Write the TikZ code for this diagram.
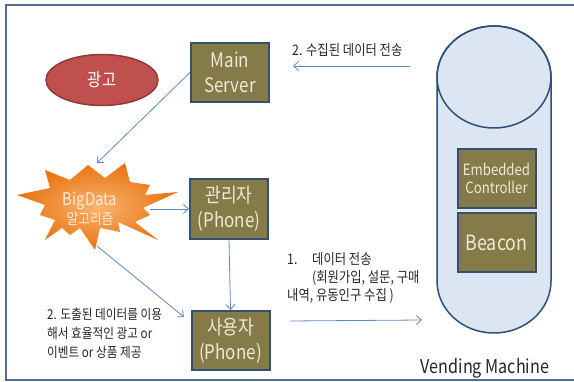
\documentclass[tikz,border=0pt]{standalone}
\usepackage{fontspec}
\setmainfont{Noto Sans CJK KR}[FakeStretch=0.85]
\usetikzlibrary{arrows.meta,shapes.geometric}
\definecolor{boxfill}{HTML}{857B48}
\definecolor{boxline}{HTML}{34506F}
\definecolor{boxtext}{HTML}{EEEAD6}
\definecolor{arr}{HTML}{5E88C0}
\definecolor{framec}{HTML}{4F6F95}
\definecolor{cylfill}{HTML}{DCE6F2}
\definecolor{cylline}{HTML}{2F4F7A}
\definecolor{adfill}{HTML}{C0504D}
\definecolor{adline}{HTML}{8E3B39}
\definecolor{burstin}{HTML}{FAB370}
\definecolor{burstout}{HTML}{E8730F}
\definecolor{bursttext}{HTML}{FDEBDD}
\definecolor{txt}{HTML}{262626}
\begin{document}
\begin{tikzpicture}[x=1pt,y=-1pt,
 box/.style={draw=boxline,line width=2pt,fill=boxfill,text=boxtext,minimum width=78pt,minimum height=59pt,inner sep=0pt,align=center,font=\fontsize{20}{25}\selectfont},
 conn/.style={draw=arr,line width=0.8pt,-{Straight Barb[length=5pt,width=9pt]}},
 lbl/.style={text=txt,anchor=west,inner sep=0pt,font=\fontsize{14.5}{19}\selectfont},
 lbls/.style={lbl,font=\fontsize{13.7}{19}\selectfont}]
\useasboundingbox (0,0) rectangle (574,382);
\draw[framec,line width=2pt] (580,5) -- (6,5) -- (6,380) -- (580,380);

% cylinder
\path[fill=cylfill,draw=cylline,line width=1.5pt] (437,77) -- (437,281)
  arc[start angle=180,end angle=0,x radius=57,y radius=52] -- (551,77)
  arc[start angle=0,end angle=-180,x radius=57,y radius=51] -- cycle;
\draw[cylline,line width=1.5pt] (494,77) ellipse[x radius=57,y radius=51];
\node[box,font=\fontsize{15.5}{18}\selectfont] (emb) at (496.5,178.5) {Embedded\\Controller};
\node[box,font=\fontsize{21}{25}\selectfont] (beacon) at (496.5,242.5) {Beacon};
\node[text=txt,font=\fontsize{19}{24}\selectfont,inner sep=0pt] (vm) at (485,368) {Vending Machine};

% ad ellipse
\node[ellipse,draw=adline,fill=adfill,line width=1.5pt,minimum width=112pt,minimum height=51pt,text=white,font=\fontsize{18}{22}\selectfont] (ad) at (102,80) {광고};

% starburst
\shade[inner color=burstin,outer color=burstout] (17,195) -- (50,188) -- (45,170) -- (70,180) -- (88,165) -- (105,178) -- (125,163) -- (130,182) -- (150,185) -- (145,195) -- (178,192) -- (143,208) -- (150,215) -- (135,222) -- (158,240) -- (118,222) -- (120,232) -- (100,228) -- (95,250) -- (80,228) -- (70,235) -- (62,228) -- (45,240) -- (55,220) -- (40,215) -- (45,205) -- cycle;
\node[text=bursttext,align=center,inner sep=0pt,font=\fontsize{17.5}{18}\selectfont] (big) at (90,209) {BigData\\[1pt]{\fontsize{15}{18}\selectfont 알고리즘}};

% boxes
\node[box] (ms) at (230,72.5) {Main\\Server};
\node[box,minimum height=60pt] (mgr) at (229,209) {관리자\\(Phone)};
\node[box] (usr) at (230.5,340.5) {사용자\\(Phone)};

% connectors
\coordinate (bigtop) at (97,163);
\coordinate (bigright) at (150,209);
\coordinate (bigbot) at (97,246);
\coordinate (usrin) at (184,317);
\coordinate (ta1) at (410,66);
\coordinate (ta2) at (293,66);
\coordinate (ba1) at (290,321);
\coordinate (ba2) at (422,320);
\draw[conn] (ms.west) -- (bigtop);
\draw[conn] (bigright) -- (mgr.west);
\draw[conn] (mgr.south) -- (usr.north);
\draw[conn] (bigbot) -- (usrin);
\draw[conn] (ta1) -- (ta2);
\draw[conn] (ba1) -- (ba2);

% labels
\node[lbl] (t1) at (292,50) {2. 수집된 데이터 전송};
\node[lbl] (t2a) at (287,259) {1.};
\node[lbl] (t2b) at (312,259) {데이터 전송};
\node[lbl] (t2c) at (312,278) {(회원가입, 설문, 구매};
\node[lbl] (t2d) at (287,296) {내역, 유동인구 수집 )};
\node[lbls] (t3a) at (47,314) {2. 도출된 데이터를 이용};
\node[lbls] (t3b) at (47,333) {해서 효율적인 광고 or};
\node[lbls] (t3c) at (47,352) {이벤트 or 상품 제공};
\end{tikzpicture}
\end{document}
